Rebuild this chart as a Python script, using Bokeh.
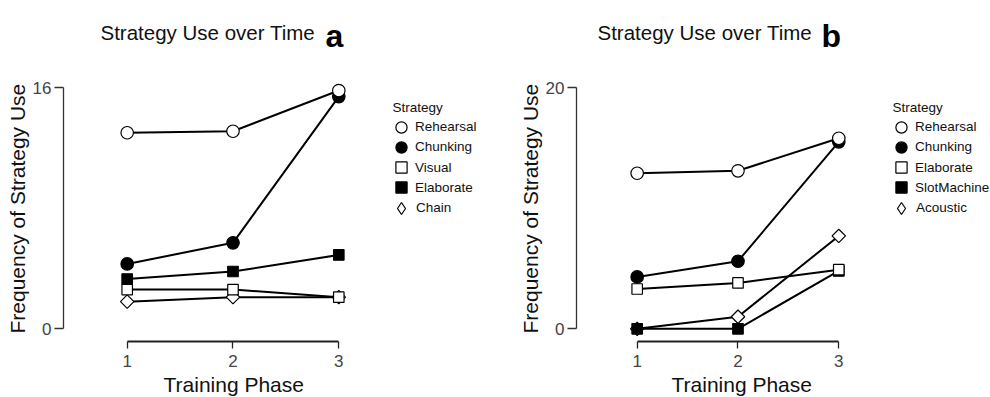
from bokeh.plotting import figure
from bokeh.layouts import row
from bokeh.models import Range1d, FixedTicker, Legend, LegendItem, Label, Title
from bokeh.embed import file_html
from bokeh.resources import INLINE
import numpy as np

phases = [1, 2, 3]

# Panel a: strategy counts per training phase
a_names = ["Rehearsal", "Chunking", "Visual", "Elaborate", "Chain"]
a_rehearsal = [13.0, 13.1, 15.8]
a_chunking = [4.3, 5.7, 15.4]
a_visual = [2.6, 2.6, 2.1]
a_elaborate = [3.3, 3.8, 4.9]
a_chain = [1.8, 2.1, 2.1]

# Panel b: strategy counts per training phase
b_names = ["Rehearsal", "Chunking", "Elaborate", "SlotMachine", "Acoustic"]
b_rehearsal = [12.9, 13.1, 15.8]
b_chunking = [4.3, 5.6, 15.5]
b_elaborate = [3.3, 3.8, 4.9]
b_slotmachine = [0, 0, 4.8]
b_acoustic = [0, 1.0, 7.7]

y_ticks_a = [0, 16]
y_ticks_b = [0, 20]

FONT = "Liberation Sans"

# marker style by legend slot: open circle, filled circle, open square,
# filled square, open diamond (square turned 45 degrees in the plot area)
STYLES = [
    dict(marker="circle", size=12.5, fill_color="white", angle=0.0),
    dict(marker="circle", size=12.5, fill_color="black", angle=0.0),
    dict(marker="square", size=10.5, fill_color="white", angle=0.0),
    dict(marker="square", size=10.5, fill_color="black", angle=0.0),
    dict(marker="square", size=9.5, fill_color="white", angle=np.pi / 4),
]


def make_panel(letter, names, series, yticks, frame_left, x_start, px_per_x,
               y_px_per_unit, zero_px, title_dx, letter_dx, legend_dx,
               xlabel_offset, ylabel_offset):
    width, height = 495, 397
    bottom = 56
    frame_h = height - bottom
    frame_w = width - frame_left
    y_start = -((height - bottom) - zero_px) / y_px_per_unit
    y_end = y_start + frame_h / y_px_per_unit
    x_end = x_start + frame_w / px_per_x

    p = figure(width=width, height=height, output_backend="svg",
               toolbar_location=None,
               x_range=Range1d(x_start, x_end), y_range=Range1d(y_start, y_end),
               min_border_left=frame_left, min_border_right=0,
               min_border_top=0, min_border_bottom=bottom)
    p.outline_line_color = None
    p.grid.grid_line_color = None
    p.background_fill_color = "white"
    p.border_fill_color = "white"

    # axes drawn only over the data span
    p.xaxis.bounds = (1, 3)
    p.xaxis.ticker = FixedTicker(ticks=phases)
    p.xaxis.axis_line_width = 2
    p.xaxis.axis_line_color = "#222222"
    p.xaxis.major_tick_line_color = "#222222"
    p.xaxis.major_tick_line_width = 1.3
    p.xaxis.major_tick_out = 7
    p.xaxis.major_tick_in = 0
    p.xaxis.major_label_standoff = 6

    p.yaxis.bounds = (yticks[0], yticks[-1])
    p.yaxis.ticker = FixedTicker(ticks=yticks)
    p.yaxis.axis_line_width = 1.3
    p.yaxis.axis_line_color = "#333333"
    p.yaxis.major_tick_line_color = "#333333"
    p.yaxis.major_tick_line_width = 1.3
    p.yaxis.major_tick_out = 9
    p.yaxis.major_tick_in = 0
    p.yaxis.major_label_standoff = 3
    p.yaxis.major_label_orientation = "horizontal"

    for ax in (p.xaxis, p.yaxis):
        ax.minor_tick_line_color = None
        ax.major_label_text_font = FONT
        ax.major_label_text_font_size = "17px"
        ax.major_label_text_color = "#444444"

    # axis titles, centred on the axis span rather than on the frame
    p.add_layout(Title(text="Training Phase", align="left", offset=xlabel_offset,
                       text_font=FONT, text_font_size="21px", text_font_style="normal",
                       text_color="#111111", standoff=2), "below")
    p.add_layout(Title(text="Frequency of Strategy Use", align="left", offset=ylabel_offset,
                       text_font=FONT, text_font_size="21px", text_font_style="normal",
                       text_color="#111111", standoff=1), "left")

    # later series drawn first so the first legend entry sits on top
    marks = {}
    for i in reversed(range(len(names))):
        st = STYLES[i]
        p.line(phases, series[i], line_color="black", line_width=2)
        marks[i] = p.scatter(phases, series[i], marker=st["marker"], size=st["size"],
                             angle=st["angle"], fill_color=st["fill_color"],
                             line_color="black", line_width=1.2)

    # legend swatch for the diamond entry (never drawn in the plot area)
    swatch = dict(marks)
    swatch[4] = p.scatter(phases, series[4], marker="diamond", fill_color="white",
                          line_color="black", line_width=1.2, visible=False)

    # one single-row legend per entry keeps rows 20px apart with full-size swatches
    row_top = 126.7
    row_step = 20.2
    for i in range(len(names)):
        gw = 30 if i == 4 else 28
        gh = 34 if i == 4 else 30
        center_y = row_top + row_step * i
        lg = Legend(
            items=[LegendItem(label=names[i], renderers=[swatch[i]])],
            location=(legend_dx + 14 - gw // 2, (height - bottom) - (center_y + gh / 2)),
            label_text_font=FONT, label_text_font_size="13.5px", label_text_color="#111111",
            glyph_width=gw, glyph_height=gh, label_height=14,
            label_standoff=0, padding=0, margin=0,
            border_line_color=None, background_fill_alpha=0)
        p.add_layout(lg)

    p.add_layout(Label(x=legend_dx + 5, y=(height - bottom) - 106.7, x_units="screen",
                       y_units="screen", text="Strategy", text_font=FONT,
                       text_font_size="13.5px", text_color="#111111", text_baseline="middle"))

    p.add_layout(Label(x=title_dx, y=frame_h - 32, x_units="screen", y_units="screen",
                       text="Strategy Use over Time", text_font=FONT, text_font_size="20.5px",
                       text_color="#111111", text_baseline="alphabetic"))
    p.add_layout(Label(x=letter_dx, y=frame_h - 35, x_units="screen", y_units="screen",
                       text=letter, text_font=FONT, text_font_size="32px",
                       text_font_style="bold", text_color="black",
                       text_baseline="alphabetic"))
    return p


pa = make_panel("a", a_names,
                [a_rehearsal, a_chunking, a_visual, a_elaborate, a_chain],
                y_ticks_a, frame_left=63, x_start=0.398, px_per_x=105.8,
                y_px_per_unit=15.08, zero_px=328.3,
                title_dx=37, letter_dx=262, legend_dx=324,
                xlabel_offset=100, ylabel_offset=8)
pb = make_panel("b", b_names,
                [b_rehearsal, b_chunking, b_elaborate, b_slotmachine, b_acoustic],
                y_ticks_b, frame_left=81, x_start=0.398, px_per_x=100.8,
                y_px_per_unit=12.06, zero_px=328.3,
                title_dx=21, letter_dx=245, legend_dx=311,
                xlabel_offset=95, ylabel_offset=8)

layout = row(pa, pb)
open("out.html", "w").write(file_html(layout, INLINE))
